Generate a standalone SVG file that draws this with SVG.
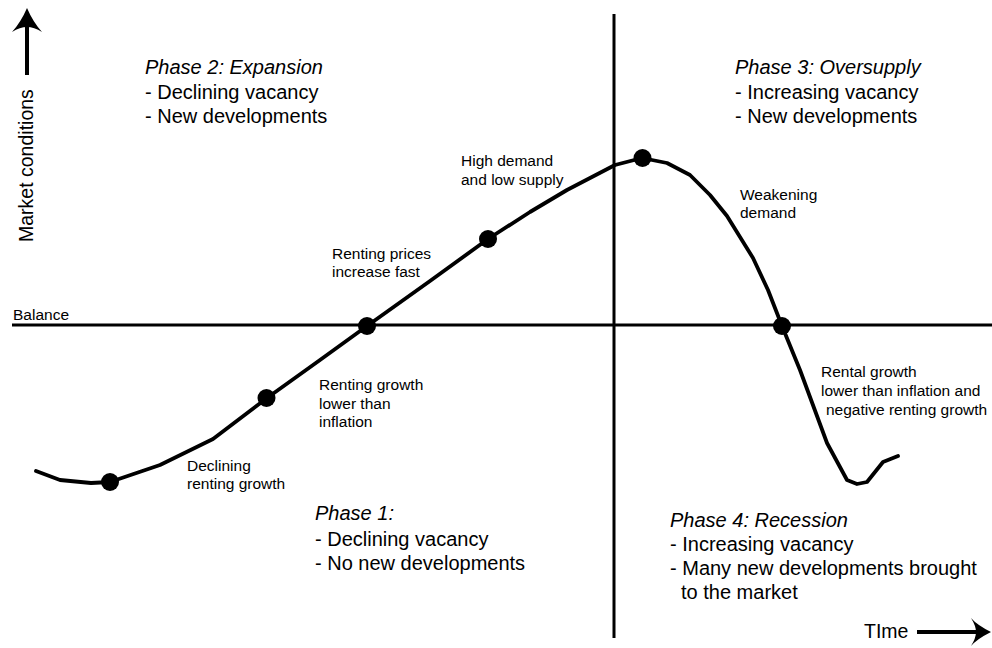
<svg xmlns="http://www.w3.org/2000/svg" width="992" height="648" viewBox="0 0 992 648">
  <style>
    .axis { stroke: #000; stroke-width: 3; fill: none; }
    .curve { stroke: #000; stroke-width: 3.8; fill: none; stroke-linejoin: round; stroke-linecap: round; }
    .dot { fill: #000; }
    .lbl { font-family: "Liberation Sans", Arial, sans-serif; font-size: 15.5px; fill: #000; }
    .phase { font-family: "Liberation Sans", Arial, sans-serif; font-size: 20px; fill: #000; }
    .title { font-style: italic; }
    .ax { font-family: "Liberation Sans", Arial, sans-serif; font-size: 19.5px; fill: #000; }
  </style>

  <rect width="992" height="648" fill="#fff"/>

  <!-- axes and quadrant dividers -->
  <g id="axes">
    <line class="axis" x1="12" y1="325" x2="992" y2="325"/>
    <line class="axis" x1="614" y1="14" x2="614" y2="638"/>
    <!-- vertical axis arrow -->
    <line x1="27" y1="75" x2="27" y2="24" stroke="#000" stroke-width="4"/>
    <path d="M27,8 Q33,22 42,32 Q34,27 27,27 Q20,27 12,32 Q21,22 27,8 Z" fill="#000"/>
    <text class="ax" transform="translate(33,242) rotate(-90)">Market conditions</text>
    <!-- horizontal axis arrow -->
    <line x1="917" y1="632" x2="976" y2="632" stroke="#000" stroke-width="4"/>
    <path d="M991,632 Q977,625 971,618 Q976,626 976,632 Q976,638 971,646 Q977,639 991,632 Z" fill="#000"/>
    <text class="ax" x="864" y="638">TIme</text>
    <text class="lbl" x="13" y="320">Balance</text>
  </g>

  <!-- market cycle curve -->
  <g id="connectors">
    <path class="curve" d="M36,471 L60,480 L91,483 L110,482 L160,465 L213,439 L267,398 L320,360 L367,326 L430,281 L488,239 L530,212 L567,190 L615,165 L642,158 L667,163 L690,175 L710,195 L727,216 L753,258 L768,290 L782,326 L800,370 L827,443 L847,480 L857,484 L867,482 L883,462 L898,456"/>
  </g>

  <g id="dot-trough"><circle class="dot" cx="110" cy="482" r="9"/></g>
  <g id="dot-recovery"><circle class="dot" cx="266.5" cy="398" r="9"/></g>
  <g id="dot-balance-up"><circle class="dot" cx="367" cy="326" r="9"/></g>
  <g id="dot-expansion"><circle class="dot" cx="488" cy="239" r="9"/></g>
  <g id="dot-peak"><circle class="dot" cx="642.5" cy="158" r="9"/></g>
  <g id="dot-balance-down"><circle class="dot" cx="782" cy="326" r="9"/></g>

  <!-- point labels -->
  <g id="label-declining-growth">
    <text class="lbl" x="187" y="471">Declining</text>
    <text class="lbl" x="187" y="489">renting growth</text>
  </g>
  <g id="label-lower-inflation">
    <text class="lbl" x="319" y="390">Renting growth</text>
    <text class="lbl" x="319" y="409">lower than</text>
    <text class="lbl" x="319" y="427">inflation</text>
  </g>
  <g id="label-prices-fast">
    <text class="lbl" x="332" y="259">Renting prices</text>
    <text class="lbl" x="332" y="277">increase fast</text>
  </g>
  <g id="label-high-demand">
    <text class="lbl" x="461" y="166">High demand</text>
    <text class="lbl" x="461" y="185">and low supply</text>
  </g>
  <g id="label-weakening">
    <text class="lbl" x="740" y="200">Weakening</text>
    <text class="lbl" x="740" y="218">demand</text>
  </g>
  <g id="label-negative-growth">
    <text class="lbl" x="821" y="377">Rental growth</text>
    <text class="lbl" x="821" y="396">lower than inflation and</text>
    <text class="lbl" x="826" y="415">negative renting growth</text>
  </g>

  <!-- phase descriptions -->
  <g id="phase-1">
    <text class="phase title" x="315" y="520">Phase 1:</text>
    <text class="phase" x="315" y="546">- Declining vacancy</text>
    <text class="phase" x="315" y="570">- No new developments</text>
  </g>
  <g id="phase-2">
    <text class="phase title" x="145" y="74">Phase 2: Expansion</text>
    <text class="phase" x="145" y="99">- Declining vacancy</text>
    <text class="phase" x="145" y="123">- New developments</text>
  </g>
  <g id="phase-3">
    <text class="phase title" x="735" y="74">Phase 3: Oversupply</text>
    <text class="phase" x="735" y="99">- Increasing vacancy</text>
    <text class="phase" x="735" y="123">- New developments</text>
  </g>
  <g id="phase-4">
    <text class="phase title" x="670" y="527">Phase 4: Recession</text>
    <text class="phase" x="670" y="551">- Increasing vacancy</text>
    <text class="phase" x="670" y="575">- Many new developments brought</text>
    <text class="phase" x="681" y="599">to the market</text>
  </g>
</svg>
